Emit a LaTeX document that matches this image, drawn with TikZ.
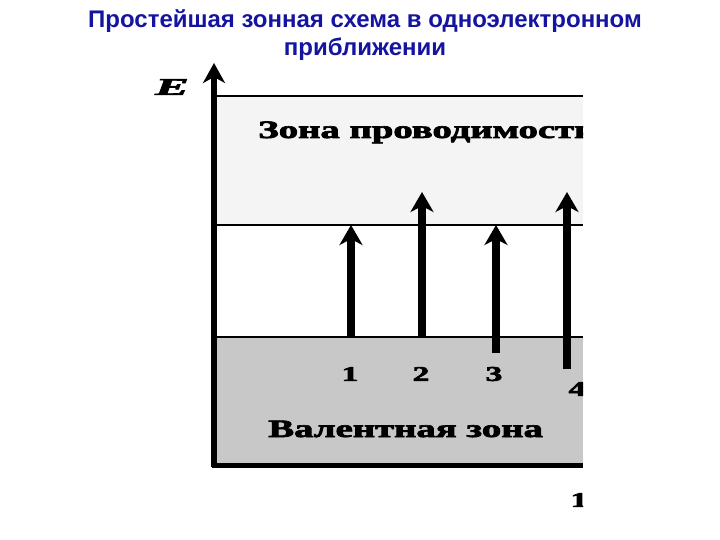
\documentclass[tikz,border=0pt]{standalone}
\usepackage{fontspec}
\setmainfont{Liberation Serif}
\newfontfamily\titlefont{Liberation Sans}
\newfontfamily\heavyfont[FakeBold=2.5]{Liberation Serif}
\usetikzlibrary{arrows.meta}
\definecolor{titleblue}{RGB}{20,20,160}
\definecolor{condgray}{RGB}{244,244,244}
\definecolor{valgray}{RGB}{200,200,200}
\tikzset{
  trans/.style={line width=8pt, -{Stealth[length=20pt,width=23pt,inset=6pt]}},
  bandlabel/.style={font=\heavyfont\fontsize{25}{27}\selectfont\bfseries, xscale=1.55, anchor=base west, inner sep=0pt},
  numlabel/.style={font=\heavyfont\fontsize{21}{24}\selectfont\bfseries, xscale=1.6, anchor=center, inner sep=0pt},
  titletext/.style={font=\titlefont\fontsize{24}{28}\selectfont\bfseries, text=titleblue, align=center}
}
\begin{document}
\begin{tikzpicture}[x=1pt,y=-1pt]
\useasboundingbox (0,0) rectangle (720,540);
\node[titletext] (title) at (365,35) {Простейшая зонная схема в одноэлектронном\\приближении};
\begin{scope}
\clip (0,0) rectangle (583,540);
\fill[condgray] (216,96) rectangle (583,225);
\fill[valgray] (216,337) rectangle (583,465);
\draw[line width=2pt] (216,96) -- (583,96);
\draw[line width=2pt] (214,225) -- (583,225);
\draw[line width=2pt] (214,337) -- (583,337);
\draw[line width=5pt] (212,465) -- (583,465);
\coordinate (a1s) at (351,337); \coordinate (a1e) at (351,225);
\coordinate (a2s) at (422,337); \coordinate (a2e) at (422,192);
\coordinate (a3s) at (496,353); \coordinate (a3e) at (496,225);
\coordinate (a4s) at (567,369); \coordinate (a4e) at (567,192);
\draw[trans] (a1s) -- (a1e);
\draw[trans] (a2s) -- (a2e);
\draw[trans] (a3s) -- (a3e);
\draw[trans] (a4s) -- (a4e);
\node[bandlabel] (cb) at (258,138) {Зона проводимости};
\node[bandlabel] (vb) at (268,437) {Валентная зона};
\node[numlabel] (n1) at (350,374) {1};
\node[numlabel] (n2) at (421,374) {2};
\node[numlabel] (n3) at (494,374) {3};
\node[numlabel] (n4) at (577,389) {4};
\node[numlabel] (k) at (579,500) {1};
\end{scope}
\draw[line width=5.5pt, -{Stealth[length=20pt,width=22pt,inset=6pt]}] (214,467) -- (214,63);
\node[font=\heavyfont\fontsize{24}{26}\selectfont\bfseries\itshape, xscale=2.1, inner sep=0pt] (E) at (172,87) {E};
\end{tikzpicture}
\end{document}
